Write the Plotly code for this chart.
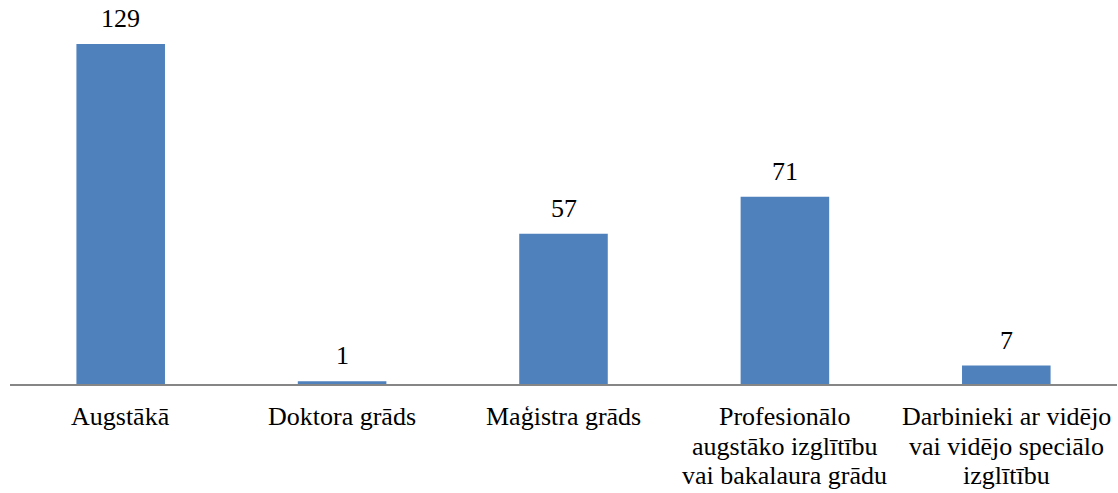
import plotly.graph_objects as go

categories = [
    "Augstākā",
    "Doktora grāds",
    "Maģistra grāds",
    "Profesionālo<br>augstāko izglītību<br>vai bakalaura grādu",
    "Darbinieki ar vidējo<br>vai vidējo speciālo<br>izglītību",
]
values = [129, 1, 57, 71, 7]

serif = "Liberation Serif"

fig = go.Figure()
fig.add_trace(go.Bar(
    x=categories,
    y=values,
    marker=dict(color="#4F81BD", line=dict(width=0)),
    hoverinfo="x+y",
))

# value labels above the bars
for cat, val in zip(categories, values):
    fig.add_annotation(
        x=cat, y=val, text=str(val), showarrow=False,
        yanchor="bottom", yshift=9,
        font=dict(family=serif, size=26, color="black"),
    )

# category labels, one annotation per line to get Word-like line spacing
for cat in categories:
    for k, line in enumerate(cat.split("<br>")):
        fig.add_annotation(
            x=cat, y=0, yref="paper", text=line, showarrow=False,
            yanchor="top", yshift=-16 - 29.5 * k,
            font=dict(family=serif, size=26, color="black"),
        )

fig.update_layout(
    width=1118,
    height=493,
    margin=dict(l=10, r=1, t=15, b=109, autoexpand=False),
    paper_bgcolor="white",
    plot_bgcolor="white",
    bargap=0.6,
    showlegend=False,
    font=dict(family=serif, size=26, color="black"),
)
fig.update_xaxes(
    showline=True, linecolor="#868686", linewidth=2,
    ticks="", showgrid=False, automargin=False, showticklabels=False,
)
fig.update_yaxes(
    range=[0, 140], visible=False, showgrid=False, zeroline=False,
)

fig.write_html(
    "out.html",
    config={"displayModeBar": False},
    post_script="document.body.style.margin='0';",
)
